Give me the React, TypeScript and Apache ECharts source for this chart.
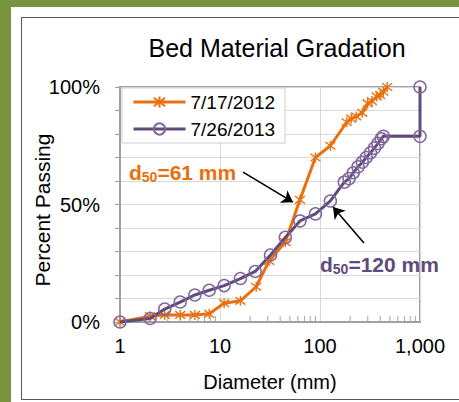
import React, { useEffect, useRef } from "react";
import * as echarts from "echarts";

const title = "Bed Material Gradation";
const yName = "Percent Passing";
const xName = "Diameter (mm)";
const seriesNames = ["7/17/2012", "7/26/2013"];

const diam2012 = [1, 2, 2.8, 4, 5.6, 7.8, 11, 16, 23, 31, 45, 63, 90, 127, 185, 205, 230, 265, 300, 330, 370, 400, 430, 470];
const pass2012 = [0, 2.5, 3, 3, 3, 3.5, 8, 9, 15, 26, 34, 52, 70, 75, 85, 86.5, 87.5, 89, 93, 94, 96, 96.5, 98, 100];

const diam2013 = [1, 2, 2.8, 4, 5.6, 7.8, 11, 16, 22.5, 32, 45, 63, 90, 127, 175, 195, 215, 240, 265, 290, 320, 350, 380, 410, 430, 1000, 1000];
const pass2013 = [0, 1.5, 5.5, 8.5, 11.5, 13.5, 15.5, 18.5, 21.5, 28.5, 36, 43, 46, 51.5, 59.5, 61, 63.5, 66, 68, 70, 72, 74, 76, 78, 79, 79, 100];

const minorTickDiam = [2, 3, 4, 5, 6, 7, 8, 9, 20, 30, 40, 50, 60, 70, 80, 90, 200, 300, 400, 500, 600, 700, 800, 900];

// annotation arrows in data coordinates [diameter, percent]
const arrow61From = [17, 63.8];
const arrow61To = [53.7, 51];
const arrow120From = [275, 33.6];
const arrow120To = [135, 48.9];

const ORANGE = "#E8700E";
const PURPLE = "#604A7B";
const PURPLE_MK = "#7F68A0";
const FONT = "'Liberation Sans', Arial, sans-serif";

export default function App() {
  const ref = useRef<HTMLDivElement>(null);
  useEffect(() => {
    if (!ref.current) return;
    const chart = echarts.init(ref.current, undefined, { renderer: "svg" });
    const star = "path://M5,0 L5,10 M1.2,1.2 L8.8,8.8 M1.2,8.8 L8.8,1.2";
    chart.setOption({
      animation: false,
      textStyle: { fontFamily: FONT },
      grid: { left: 120, top: 87, width: 300, height: 235, show: true, borderColor: "#a0a0a0", borderWidth: 2, backgroundColor: "transparent" },
      legend: {
        left: 122, top: 88, orient: "vertical",
        data: [
          { name: seriesNames[0], lineStyle: { width: 3, color: ORANGE } },
          { name: seriesNames[1], lineStyle: { width: 3, color: PURPLE } },
        ],
        itemWidth: 52, itemHeight: 14, itemGap: 7, itemTextGap: 6,
        padding: [4, 10, 4, 10],
        borderColor: "#d0d0d0", borderWidth: 1, backgroundColor: "#fff",
        textStyle: { fontSize: 19, color: "#000", lineHeight: 20, fontFamily: FONT },
      },
      xAxis: {
        type: "log", logBase: 10, min: 1, max: 1000,
        name: xName, nameLocation: "middle", nameGap: 50,
        nameTextStyle: { fontSize: 20, color: "#000", fontFamily: FONT },
        axisLine: { lineStyle: { color: "#a0a0a0", width: 2 } },
        axisTick: { show: false },
        axisLabel: { fontSize: 20, color: "#000", margin: 14, fontFamily: FONT, formatter: (v: number) => v.toLocaleString("en-US") },
        splitLine: { show: true, lineStyle: { color: "#d9d9d9", width: 1 } },
      },
      yAxis: {
        type: "value", min: 0, max: 100, interval: 10,
        axisLine: { show: true, lineStyle: { color: "#a0a0a0", width: 2 } },
        axisTick: { show: true, length: 5, lineStyle: { color: "#a0a0a0" } },
        axisLabel: { fontSize: 20, color: "#000", margin: 20, fontFamily: FONT, formatter: (v: number) => (v % 50 === 0 ? v + "%" : "") },
        splitLine: { show: true, lineStyle: { color: "#d9d9d9", width: 1 } },
      },
      series: [
        {
          name: "minorTicks", type: "scatter", silent: true, clip: false, z: 1,
          data: minorTickDiam.map((d) => [d, 0]),
          symbol: "rect", symbolSize: [1.2, 6], symbolOffset: [0, -3],
          itemStyle: { color: "#a0a0a0" },
        },
        {
          name: seriesNames[0], type: "line", z: 3,
          data: diam2012.map((d, i) => [d, pass2012[i]]),
          lineStyle: { color: ORANGE, width: 3 },
          symbol: star, symbolSize: 10,
          itemStyle: { color: ORANGE, borderColor: ORANGE, borderWidth: 1.4 },
          markLine: {
            silent: true, symbol: ["none", "arrow"], symbolSize: 11,
            label: { show: false },
            lineStyle: { color: "#000", width: 1.6, type: "solid" },
            data: [[{ coord: arrow61From }, { coord: arrow61To }]],
          },
        },
        {
          name: seriesNames[1], type: "line", z: 4,
          data: diam2013.map((d, i) => [d, pass2013[i]]),
          lineStyle: { color: PURPLE, width: 3 },
          symbol: "circle", symbolSize: 12,
          itemStyle: { color: "rgba(255,255,255,0)", borderColor: PURPLE_MK, borderWidth: 1.5 },
          markLine: {
            silent: true, symbol: ["none", "arrow"], symbolSize: 11,
            label: { show: false },
            lineStyle: { color: "#000", width: 1.6, type: "solid" },
            data: [[{ coord: arrow120From }, { coord: arrow120To }]],
          },
        },
      ],
      graphic: [
        { type: "text", x: 277, y: 48, style: { text: title, fontSize: 25, fontFamily: FONT, fill: "#000", align: "center", verticalAlign: "middle" } },
        { type: "text", x: 42, y: 210, rotation: Math.PI / 2, style: { text: yName, fontSize: 21, fontFamily: FONT, fill: "#000", align: "center", verticalAlign: "middle" } },
        {
          type: "text", x: 129, y: 160, z: 10,
          style: {
            text: "{m|d}{s|50}{m|=61 mm}", fill: ORANGE,
            rich: {
              m: { fontSize: 21, fontWeight: "bold", fontFamily: FONT, fill: ORANGE, lineHeight: 24 },
              s: { fontSize: 14, fontWeight: "bold", fontFamily: FONT, fill: ORANGE, lineHeight: 10, verticalAlign: "bottom" },
            },
          },
        },
        {
          type: "text", x: 320, y: 252, z: 10,
          style: {
            text: "{m|d}{s|50}{m|=120 mm}", fill: PURPLE,
            rich: {
              m: { fontSize: 21, fontWeight: "bold", fontFamily: FONT, fill: PURPLE, lineHeight: 24 },
              s: { fontSize: 14, fontWeight: "bold", fontFamily: FONT, fill: PURPLE, lineHeight: 10, verticalAlign: "bottom" },
            },
          },
        },
      ],
    });
    return () => chart.dispose();
  }, []);
  return (
    <div style={{ position: "fixed", left: 0, top: 0, width: 459, height: 402, background: "#77933C", overflow: "hidden" }}>
      <div style={{ position: "absolute", left: 11, top: 7, right: 0, bottom: 0, background: "#fff" }} />
      <div style={{ position: "absolute", left: 21, top: 17, width: 460, height: 383, border: "1px solid #595959", boxSizing: "border-box" }} />
      <div ref={ref} style={{ position: "absolute", left: 0, top: 0, width: 459, height: 402 }} />
    </div>
  );
}
